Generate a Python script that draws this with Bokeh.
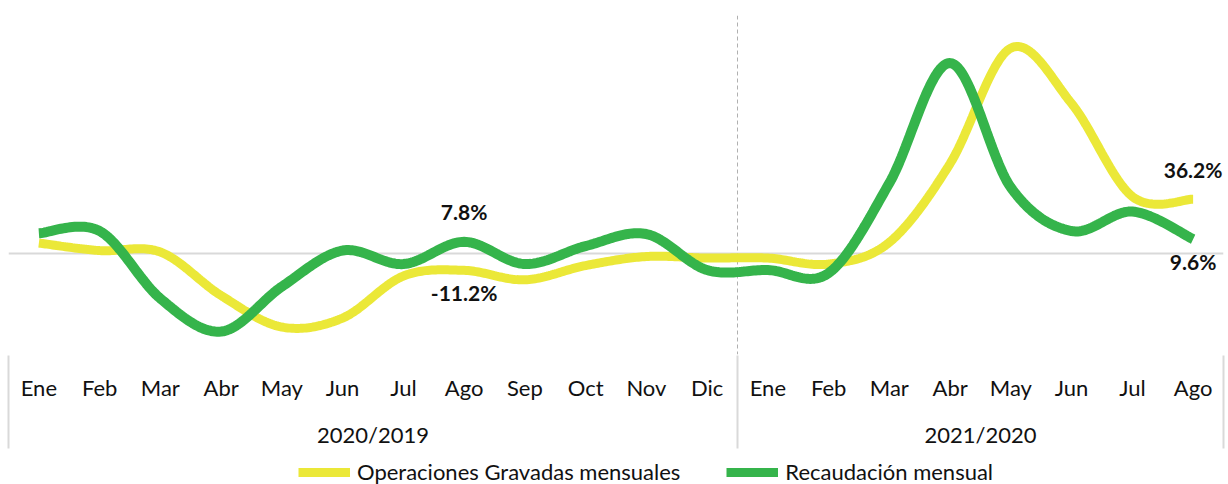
import numpy as np
from bokeh.plotting import figure
from bokeh.layouts import column
from bokeh.models import (ColumnDataSource, Span, LinearAxis, FixedTicker, Range1d,
                          Legend, LegendItem)
from bokeh.core.properties import value
from bokeh.embed import file_html
from bokeh.resources import INLINE

# ---------------- data ----------------
months = ["Ene", "Feb", "Mar", "Abr", "May", "Jun", "Jul", "Ago", "Sep", "Oct", "Nov", "Dic",
          "Ene", "Feb", "Mar", "Abr", "May", "Jun", "Jul", "Ago"]
groups = ["2020/2019", "2021/2020"]
group_sizes = [12, 8]
operaciones = [7, 2, 1, -28, -49, -43, -15, -11.2, -17.5, -8, -2, -3,
               -3, -7, 7.5, 60, 137, 100, 38, 36.2]
recaudacion = [13.5, 15, -30, -52, -22, 2, -7, 7.8, -7, 5, 13, -11,
               -11, -13, 47, 127, 44, 15, 28, 9.6]
series_names = ["Operaciones Gravadas mensuales", "Recaudación mensual"]
label_idx = [7, 19]

YELLOW = "#EBE838"
GREEN = "#35B44B"
FONT = "Lato"
FS = "22px"

x = np.arange(len(months), dtype=float)


def smooth(xs, ys, n=30):
    xs = np.asarray(xs, float)
    ys = np.asarray(ys, float)
    px = np.concatenate([[xs[0]], xs, [xs[-1]]])
    py = np.concatenate([[ys[0]], ys, [ys[-1]]])
    ox, oy = [], []
    t = np.linspace(0, 1, n, endpoint=False)
    for i in range(1, len(px) - 2):
        p0, p1, p2, p3 = (np.array([px[k], py[k]]) for k in (i - 1, i, i + 1, i + 2))
        c1 = p1 + (p2 - p0) / 6.0
        c2 = p2 - (p3 - p1) / 6.0
        for tt in t:
            b = ((1 - tt) ** 3) * p1 + 3 * ((1 - tt) ** 2) * tt * c1 \
                + 3 * (1 - tt) * tt ** 2 * c2 + tt ** 3 * p2
            ox.append(b[0]); oy.append(b[1])
    ox.append(xs[-1]); oy.append(ys[-1])
    return ox, oy


n = len(months)
p = figure(width=1228, height=456,
           x_range=Range1d(-0.5, n - 0.5), y_range=Range1d(-67.3, 158.7),
           x_axis_type=None, y_axis_type=None,
           output_backend="svg", toolbar_location=None,
           min_border_left=8, min_border_right=5, min_border_top=15, min_border_bottom=102)
p.outline_line_color = None

# zero line and dashed separator
p.add_layout(Span(location=0, dimension="width", line_color="#d9d9d9", line_width=2,
                  level="underlay"))
bounds = [float(b) for b in np.cumsum([0] + group_sizes) - 0.5]
p.add_layout(Span(location=bounds[1], dimension="height", line_color="#b0b0b0",
                  line_width=1, line_dash="4 3", level="underlay"))

sx, sy = smooth(x, operaciones)
p.line(sx, sy, line_color=YELLOW, line_width=9)
gx, gy = smooth(x, recaudacion)
p.line(gx, gy, line_color=GREEN, line_width=10)

# data labels
lx, ly, lt, lo = [], [], [], []
for i in label_idx:
    a, b = operaciones[i], recaudacion[i]
    for v, other in ((a, b), (b, a)):
        lx.append(x[i]); ly.append(v); lt.append(f"{v:.1f}%")
        lo.append(-30 if v >= other else 22)
p.text(x="x", y="y", text="t", y_offset="o",
       source=ColumnDataSource(dict(x=lx, y=ly, t=lt, o=lo)),
       text_align="center", text_baseline="middle",
       text_font=value(FONT), text_font_style="bold", text_font_size="21px",
       text_color="#111111")

# month axis
ax1 = LinearAxis(ticker=FixedTicker(ticks=list(x)),
                 major_label_overrides={float(i): m for i, m in enumerate(months)},
                 axis_line_color=None, major_tick_line_color=None, minor_tick_line_color=None,
                 major_tick_out=0, major_tick_in=0, minor_tick_out=0, minor_tick_in=0,
                 major_label_standoff=19,
                 major_label_text_font=FONT, major_label_text_font_size=FS,
                 major_label_text_color="#111111")
p.add_layout(ax1, "below")

# group axis with separators
centers = [bounds[k] + group_sizes[k] / 2.0 for k in range(len(groups))]
ax2 = LinearAxis(ticker=FixedTicker(ticks=centers, minor_ticks=bounds),
                 major_label_overrides={c: g for c, g in zip(centers, groups)},
                 axis_line_color=None, major_tick_line_color=None,
                 minor_tick_line_color="#d9d9d9", minor_tick_line_width=2,
                 minor_tick_in=48, minor_tick_out=45,
                 major_tick_out=0, major_tick_in=0, major_label_standoff=-28,
                 major_label_text_font=FONT, major_label_text_font_size=FS,
                 major_label_text_color="#111111")
p.add_layout(ax2, "below")

# legend strip (series drawn outside its visible range, only legend shows)
lg = figure(width=1228, height=28, x_range=Range1d(-1000, -999), y_range=Range1d(-1000, -999),
            x_axis_type=None, y_axis_type=None, output_backend="svg", toolbar_location=None,
            min_border_left=8, min_border_right=5, min_border_top=0, min_border_bottom=0)
lg.outline_line_color = None
l1 = lg.line(x, operaciones, line_color=YELLOW, line_width=9)
l2 = lg.line(x, recaudacion, line_color=GREEN, line_width=9)
legend = Legend(items=[LegendItem(label=series_names[0], renderers=[l1]),
                       LegendItem(label=series_names[1], renderers=[l2])],
                orientation="horizontal", location=(290, -1),
                border_line_color=None, background_fill_alpha=0,
                label_text_font=FONT, label_text_font_size=FS, label_text_color="#111111",
                glyph_width=52, glyph_height=20, spacing=46, label_standoff=7,
                padding=0, margin=0)
lg.add_layout(legend, "center")

open("out.html", "w").write(file_html(column(p, lg, spacing=0), INLINE))
